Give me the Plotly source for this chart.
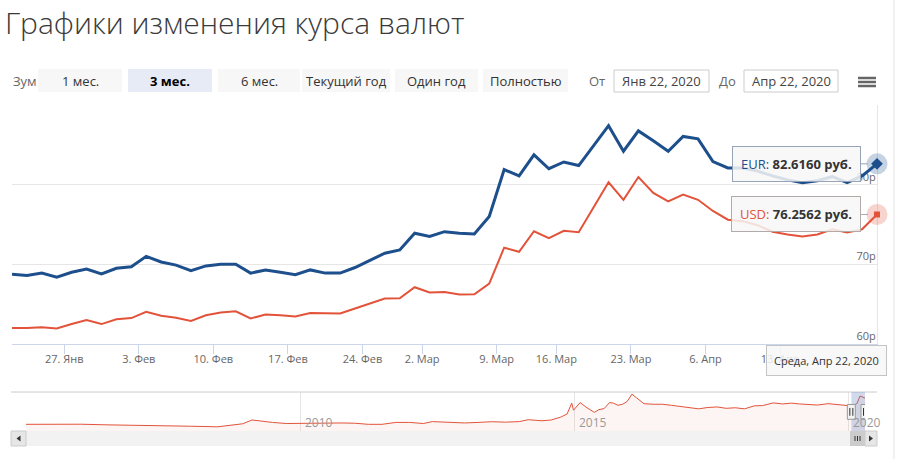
import bisect
import datetime as dt
import plotly.graph_objects as go

# ---------------- data ----------------
dates = [
    "2020-01-22", "2020-01-23", "2020-01-24", "2020-01-25",
    "2020-01-28", "2020-01-29", "2020-01-30", "2020-01-31", "2020-02-01",
    "2020-02-04", "2020-02-05", "2020-02-06", "2020-02-07", "2020-02-08",
    "2020-02-11", "2020-02-12", "2020-02-13", "2020-02-14", "2020-02-15",
    "2020-02-18", "2020-02-19", "2020-02-20", "2020-02-21", "2020-02-22",
    "2020-02-26", "2020-02-27", "2020-02-28", "2020-02-29",
    "2020-03-03", "2020-03-04", "2020-03-05", "2020-03-06", "2020-03-07",
    "2020-03-11", "2020-03-12", "2020-03-13", "2020-03-14",
    "2020-03-17", "2020-03-18", "2020-03-19", "2020-03-20", "2020-03-21",
    "2020-03-24", "2020-03-25", "2020-03-26", "2020-03-27", "2020-03-28",
    "2020-04-07", "2020-04-08", "2020-04-09", "2020-04-10", "2020-04-11",
    "2020-04-14", "2020-04-15", "2020-04-16", "2020-04-17", "2020-04-18",
    "2020-04-21", "2020-04-22",
]

eur = [68.75, 68.60, 68.90, 68.40, 69.00, 69.40, 68.80, 69.50, 69.70,
       71.00, 70.30, 69.90, 69.20, 69.80, 70.00, 70.00, 68.90, 69.30, 69.00,
       68.70, 69.30, 68.90, 68.90, 69.60, 70.50, 71.40, 71.80, 73.90,
       73.50, 74.10, 73.90, 73.80, 76.00, 81.90, 81.10, 83.75, 82.00,
       82.85, 82.40, 84.90, 87.40, 84.20, 86.75, 85.50, 84.20, 86.05,
       85.75, 82.90, 82.10, 82.10, 81.70, 81.10, 80.60, 80.25, 80.50,
       81.00, 80.25, 81.10, 82.6160]

usd = [62.00, 62.00, 62.10, 61.95, 62.50, 63.00, 62.50, 63.10, 63.25,
       64.05, 63.55, 63.30, 62.90, 63.60, 63.95, 64.10, 63.20, 63.70, 63.62,
       63.46, 63.88, 63.84, 63.84, 64.46, 65.13, 65.71, 65.75, 67.13,
       66.46, 66.54, 66.21, 66.25, 67.59, 72.09, 71.57, 74.15, 73.30,
       74.20, 74.04, 77.20, 80.30, 78.10, 80.96, 78.96, 77.90, 78.75,
       78.10, 76.70, 75.60, 75.40, 74.90, 74.10, 73.75, 73.50, 73.75,
       74.40, 74.00, 74.40, 76.2562]

tick_dates = ["2020-01-27", "2020-02-03", "2020-02-10", "2020-02-17", "2020-02-24",
              "2020-03-02", "2020-03-09", "2020-03-16", "2020-03-23", "2020-04-06",
              "2020-04-13"]

y_ticks = [60, 70, 80, 90]
y_tick_text = ["60р", "70р", "80р", ""]

month_abbr = ["Янв", "Фев", "Мар", "Апр", "Май", "Июн", "Июл", "Авг", "Сен", "Окт", "Ноя", "Дек"]
weekday_names = ["Понедельник", "Вторник", "Среда", "Четверг", "Пятница", "Суббота", "Воскресенье"]

zoom_buttons = ["1 мес.", "3 мес.", "6 мес.", "Текущий год", "Один год", "Полностью"]
selected_button = "3 мес."

# navigator (USD, long history)
nav_dates = ["2005-01-01", "2005-07-01", "2006-01-01", "2006-07-01", "2007-01-01", "2007-07-01",
             "2008-01-01", "2008-07-01", "2008-10-01", "2008-12-15", "2009-02-15", "2009-04-15",
             "2009-07-01", "2009-10-01", "2010-01-01", "2010-04-01", "2010-07-01", "2010-10-01",
             "2011-01-01", "2011-04-01", "2011-07-01", "2011-10-01", "2012-01-01", "2012-04-01",
             "2012-06-01", "2012-10-01", "2013-01-01", "2013-04-01", "2013-07-01", "2013-10-01",
             "2014-01-01", "2014-03-01", "2014-06-01", "2014-08-01", "2014-10-01", "2014-11-15",
             "2014-12-16", "2014-12-28", "2015-01-20", "2015-02-10", "2015-03-20", "2015-05-15",
             "2015-06-15", "2015-07-20", "2015-08-25", "2015-09-20", "2015-10-20", "2015-11-20",
             "2015-12-20", "2016-01-21", "2016-02-20", "2016-04-10", "2016-06-10", "2016-08-10",
             "2016-10-10", "2016-12-10", "2017-02-10", "2017-04-10", "2017-06-10", "2017-08-10",
             "2017-10-10", "2017-12-10", "2018-02-10", "2018-04-15", "2018-06-10", "2018-08-20",
             "2018-10-20", "2018-12-20", "2019-02-10", "2019-04-10", "2019-06-10", "2019-08-20",
             "2019-10-20", "2019-12-20", "2020-01-22", "2020-02-28", "2020-03-20", "2020-04-22"]
nav_usd = [28.0, 28.6, 28.2, 27.0, 26.5, 25.8,
           24.5, 23.4, 26.0, 29.0, 36.0, 33.5,
           31.5, 29.5, 30.0, 29.3, 30.5, 30.5,
           30.0, 28.0, 28.0, 31.5, 31.5, 29.5,
           33.0, 31.0, 30.5, 31.5, 32.8, 32.0,
           33.0, 36.5, 34.5, 36.0, 41.0, 47.0,
           67.0, 54.0, 62.0, 68.0, 60.0, 50.0,
           55.0, 57.0, 68.0, 67.0, 63.0, 65.0,
           70.0, 83.5, 77.0, 66.0, 65.0, 65.0,
           63.0, 61.0, 58.0, 56.5, 59.0, 60.0,
           57.5, 58.5, 56.5, 62.0, 62.5, 67.5,
           65.5, 67.0, 65.5, 64.5, 63.5, 66.0,
           64.0, 62.0, 61.9, 66.0, 80.2, 76.3]
nav_years = ["2010-01-01", "2015-01-01", "2020-01-01"]

# ---------------- styles ----------------
EUR_C = "#1d4f8c"
USD_C = "#e2533a"
FONT = "Open Sans"
W, H = 899, 459
L, R, T, B = 12, 22, 105, 13
PW, PH = W - L - R, H - T - B


def px(x):
    return (x - L) / PW


def py(y):
    return (H - B - y) / PH


def d(s):
    return dt.date.fromisoformat(s)


idx = list(range(len(dates)))
tick_pos = [bisect.bisect_left(dates, t) - 0.5 for t in tick_dates]
tick_text = [f"{d(t).day}. {month_abbr[d(t).month - 1]}" for t in tick_dates]


def fmt_date(s):
    x = d(s)
    return f"{month_abbr[x.month - 1]} {x.day}, {x.year}"


fig = go.Figure()

# main series
fig.add_trace(go.Scatter(x=idx, y=usd, mode="lines", line=dict(color=USD_C, width=2),
                         hoverinfo="skip", showlegend=False))
fig.add_trace(go.Scatter(x=idx, y=eur, mode="lines", line=dict(color=EUR_C, width=3),
                         hoverinfo="skip", showlegend=False))
# hover halos + markers on last point
for ser, col, sym, sz in [(eur, EUR_C, "diamond", 9), (usd, USD_C, "square", 6)]:
    fig.add_trace(go.Scatter(x=[idx[-1]], y=[ser[-1]], mode="markers",
                             marker=dict(size=21, color=col, opacity=0.25, line=dict(width=0)),
                             hoverinfo="skip", showlegend=False, cliponaxis=False))
    fig.add_trace(go.Scatter(x=[idx[-1]], y=[ser[-1]], mode="markers",
                             marker=dict(size=sz, color=col, symbol=sym, line=dict(width=0)),
                             hoverinfo="skip", showlegend=False, cliponaxis=False))

# navigator series
fig.add_trace(go.Scatter(x=nav_dates, y=nav_usd, mode="lines", xaxis="x2", yaxis="y2",
                         line=dict(color=USD_C, width=1), fill="tozeroy",
                         fillcolor="rgba(226,83,58,0.06)", hoverinfo="skip", showlegend=False))

shapes = []
ann = []

# title
ann.append(dict(text="Графики изменения курса валют", xref="paper", yref="paper",
                x=px(3), y=py(22), xanchor="left", yanchor="middle", showarrow=False,
                font=dict(family=FONT, size=30, color="#3a3a3a", weight=300)))

# zoom row
ann.append(dict(text="Зум", xref="paper", yref="paper", x=px(11), y=py(80.5), xanchor="left",
                yanchor="middle", showarrow=False, font=dict(family=FONT, size=13, color="#666666")))
btn_x = [(38, 122), (128, 212), (218, 300), (302, 390), (395, 478), (483, 568)]
for lab, (x0, x1) in zip(zoom_buttons, btn_x):
    sel = lab == selected_button
    shapes.append(dict(type="rect", xref="paper", yref="paper", x0=px(x0), x1=px(x1),
                       y0=py(92), y1=py(69), fillcolor="#e6ebf5" if sel else "#f7f7f7",
                       line=dict(width=0), layer="below"))
    ann.append(dict(text=f"<b>{lab}</b>" if sel else lab, xref="paper", yref="paper",
                    x=px((x0 + x1) / 2), y=py(80.5), xanchor="center", yanchor="middle",
                    showarrow=False,
                    font=dict(family=FONT, size=13, color="#000000" if sel else "#333333")))

for lab, cx in [("От", 597), ("До", 727)]:
    ann.append(dict(text=lab, xref="paper", yref="paper", x=px(cx), y=py(80.5), xanchor="center",
                    yanchor="middle", showarrow=False,
                    font=dict(family=FONT, size=13, color="#666666")))
for s, (x0, x1) in [(dates[0], (614, 709)), (dates[-1], (744, 838))]:
    shapes.append(dict(type="rect", xref="paper", yref="paper", x0=px(x0), x1=px(x1),
                       y0=py(92), y1=py(70), fillcolor="#ffffff",
                       line=dict(width=1, color="#cccccc")))
    ann.append(dict(text=fmt_date(s), xref="paper", yref="paper", x=px((x0 + x1) / 2), y=py(80.5),
                    xanchor="center", yanchor="middle", showarrow=False,
                    font=dict(family=FONT, size=13, color="#444444")))

# hamburger
for yy in (78, 82, 86):
    shapes.append(dict(type="line", xref="paper", yref="paper", x0=px(858), x1=px(876),
                       y0=py(yy), y1=py(yy), line=dict(color="#666666", width=2.5)))

# right container border
shapes.append(dict(type="line", xref="paper", yref="paper", x0=px(894), x1=px(894),
                   y0=py(0), y1=py(H), line=dict(color="#e3e3e3", width=1)))

# navigator outline + mask + handles
shapes.append(dict(type="line", xref="paper", yref="paper", x0=px(11), x1=px(877),
                   y0=py(392), y1=py(392), line=dict(color="#cccccc", width=1)))
shapes.append(dict(type="rect", xref="x2", yref="y2 domain", x0=dates[0], x1=dates[-1],
                   y0=0, y1=1, fillcolor="rgba(102,133,194,0.3)", line=dict(width=0)))
for s in (dates[0], dates[-1]):
    shapes.append(dict(type="rect", xref="x2", yref="y2 domain", xsizemode="pixel", xanchor=s,
                       x0=-4, x1=4, y0=0.3, y1=0.68, fillcolor="#f2f2f2",
                       line=dict(color="#999999", width=1)))
    for off in (-1.5, 1.5):
        shapes.append(dict(type="line", xref="x2", yref="y2 domain", xsizemode="pixel", xanchor=s,
                           x0=off, x1=off, y0=0.39, y1=0.59, line=dict(color="#333333", width=1)))

# scrollbar
shapes.append(dict(type="rect", xref="paper", yref="paper", x0=px(11), x1=px(877),
                   y0=py(446), y1=py(431), fillcolor="#f2f2f2", line=dict(width=0)))
shapes.append(dict(type="rect", xref="paper", yref="paper", x0=px(850), x1=px(865),
                   y0=py(446), y1=py(431), fillcolor="#cccccc", line=dict(width=0)))
for gx in (855, 857.5, 860):
    shapes.append(dict(type="line", xref="paper", yref="paper", x0=px(gx), x1=px(gx),
                       y0=py(441), y1=py(436), line=dict(color="#333333", width=1)))
for (x0, x1), direction in [((11, 26), -1), ((865, 877), 1)]:
    shapes.append(dict(type="rect", xref="paper", yref="paper", x0=px(x0), x1=px(x1),
                       y0=py(446), y1=py(431), fillcolor="#e6e6e6",
                       line=dict(color="#cccccc", width=1)))
    cx = (x0 + x1) / 2
    tip, base = cx + 2 * direction, cx - 2 * direction
    path = (f"M {px(base)},{py(435.5)} L {px(tip)},{py(438.5)} L {px(base)},{py(441.5)} Z")
    shapes.append(dict(type="path", xref="paper", yref="paper", path=path,
                       fillcolor="#333333", line=dict(width=0)))

# navigator year labels
for yv in nav_years:
    ann.append(dict(text=yv[:4], xref="x2", yref="y2 domain", x=yv, y=0.21, xanchor="left",
                    yanchor="middle", xshift=3, showarrow=False,
                    font=dict(family=FONT, size=12, color="#999999")))

# split tooltips (box with a short pointer toward the hovered point)
TT_BG = "rgba(247,247,247,0.85)"
for name, ser, col, border in [("EUR", eur, EUR_C, "#97a3b6"), ("USD", usd, USD_C, "#b0aaa8")]:
    ann.append(dict(text=f"<span style='color:{col}'>{name}: </span><b>{ser[-1]:.4f} руб.</b>",
                    xref="x", yref="y", x=idx[-1], y=ser[-1], showarrow=True,
                    axref="pixel", ayref="pixel", ax=-81, ay=0, xanchor="center", yanchor="middle",
                    arrowhead=0, arrowwidth=1, arrowcolor=border, standoff=9,
                    bgcolor=TT_BG, bordercolor=border, borderwidth=1,
                    borderpad=8, font=dict(family=FONT, size=13, color="#333333")))

last = d(dates[-1])
ann.append(dict(text=f"{weekday_names[last.weekday()]}, {fmt_date(dates[-1])}", xref="x",
                yref="y domain", x=idx[-1], y=0, xanchor="right", yanchor="top", xshift=10,
                yshift=-1, showarrow=False, bgcolor=TT_BG, bordercolor="#c4c4c4", borderwidth=1,
                borderpad=7, font=dict(family=FONT, size=11, color="#333333")))

fig.update_layout(
    width=W, height=H, margin=dict(l=L, r=R, t=T, b=B, autoexpand=False),
    paper_bgcolor="#ffffff", plot_bgcolor="#ffffff", showlegend=False,
    font=dict(family=FONT, color="#666666"),
    xaxis=dict(domain=[0, 1], anchor="y", range=[0, idx[-1]], tickvals=tick_pos, ticktext=tick_text,
               ticks="outside", ticklen=5, tickcolor="rgba(0,0,0,0)",
               minor=dict(tickvals=tick_pos, ticks="outside", ticklen=9, tickcolor="#ccd6eb",
                          showgrid=False),
               showline=True, linecolor="#ccd6eb", layer="below traces",
               showgrid=False, zeroline=False, tickfont=dict(family=FONT, size=11, color="#666666"),
               automargin=False, fixedrange=True),
    yaxis=dict(domain=[py(344), 1], anchor="x", side="right", range=[60, 90], tickvals=y_ticks,
               ticktext=y_tick_text, ticklabelposition="inside top", ticks="",
               showgrid=True, gridcolor="#e6e6e6", showline=True, linecolor="#e6e6e6",
               layer="below traces",
               zeroline=False, tickfont=dict(family=FONT, size=11, color="#666666"),
               automargin=False, fixedrange=True),
    xaxis2=dict(domain=[px(26), px(865)], anchor="y2", type="date", range=[nav_dates[0], nav_dates[-1]],
                tickvals=nav_years, showticklabels=False, showgrid=True, gridcolor="#e6e6e6",
                zeroline=False, showline=False, ticks="", automargin=False, fixedrange=True),
    yaxis2=dict(domain=[py(431), py(392)], anchor="x2", range=[15.7, 87.5], visible=False,
                fixedrange=True),
    shapes=shapes, annotations=ann,
)

fig.write_html("out.html", config={"displayModeBar": False},
               post_script="document.body.style.margin='0';")
